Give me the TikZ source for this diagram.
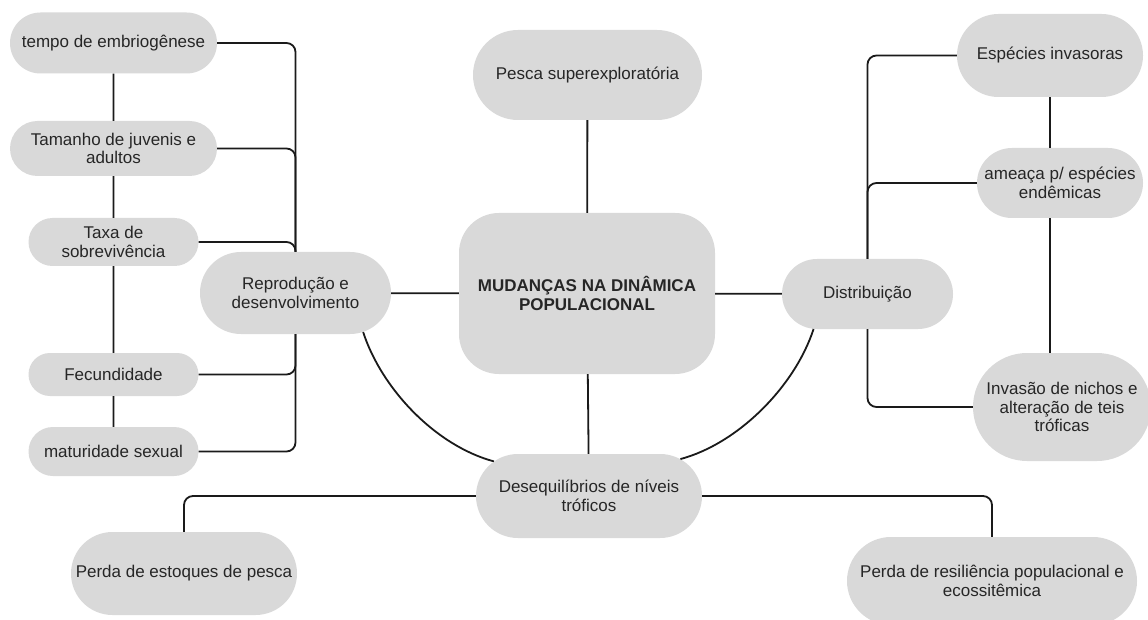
\documentclass[tikz,border=0pt]{standalone}
\usepackage{fontspec}
\setmainfont{Liberation Sans}
\usetikzlibrary{shapes.misc}
\definecolor{boxgray}{HTML}{D9D9D9}
\definecolor{txt}{HTML}{262626}
\definecolor{ln}{HTML}{1A1A1A}
\newcommand\fsz{\fontsize{17}{18.6}\selectfont}
\tikzset{
  pill/.style={rounded rectangle, fill=boxgray, draw=none, inner sep=0pt, align=center, font=\fsz, text=txt},
  conn/.style={draw=ln, line width=1.8pt},
  elbow/.style={conn, rounded corners=9pt}
}
\begin{document}
\begin{tikzpicture}[x=1pt,y=-1pt]
\useasboundingbox[fill=white] (0,0) rectangle (1148,620);
% nodes
\node[pill, minimum width=207pt, minimum height=61pt] (tempo) at (113.5,43) {tempo de embriogênese};
\node[pill, minimum width=207pt, minimum height=55pt] (tamanho) at (113.5,148.5) {Tamanho de juvenis e\\adultos};
\node[pill, minimum width=170pt, minimum height=48pt] (taxa) at (113.5,242) {Taxa de\\sobrevivência};
\node[pill, minimum width=191pt, minimum height=82pt] (repro) at (295.5,293) {Reprodução e\\desenvolvimento};
\node[pill, minimum width=170pt, minimum height=43pt] (fec) at (113.5,374.5) {Fecundidade};
\node[pill, minimum width=170pt, minimum height=49pt] (mat) at (113.5,451.5) {maturidade sexual};
\node[rectangle, rounded corners=40pt, fill=boxgray, inner sep=0pt, align=center, text=txt,
      font=\fontsize{17}{19}\selectfont\bfseries, minimum width=256pt, minimum height=161pt] (centro) at (587,293.5) {MUDANÇAS NA DINÂMICA\\POPULACIONAL};
\node[pill, minimum width=229pt, minimum height=90pt] (pesca) at (587.5,75) {Pesca superexploratória};
\node[pill, minimum width=171pt, minimum height=70pt] (distr) at (867.5,294) {Distribuição};
\node[pill, minimum width=186pt, minimum height=83pt] (especies) at (1050,55.5) {Espécies invasoras};
\node[pill, minimum width=166pt, minimum height=70pt] (ameaca) at (1060,183) {ameaça p/ espécies\\endêmicas};
\node[pill, minimum width=178pt, minimum height=108pt] (invasao) at (1062,407) {Invasão de nichos e\\alteração de teis\\tróficas};
\node[pill, minimum width=226pt, minimum height=84pt] (deseq) at (589,496) {Desequilíbrios de níveis\\tróficos};
\node[pill, minimum width=226pt, minimum height=83pt] (estoques) at (184,573.5) {Perda de estoques de pesca};
\node[pill, minimum width=290pt, minimum height=88pt] (resil) at (992,581) {Perda de resiliência populacional e\\ecossitêmica};
% connectors
\draw[conn] (pesca) -- (centro);
\draw[conn] (repro) -- (centro);
\draw[conn] (centro) -- (distr);
\draw[conn] (centro) -- (deseq);
% left column
\draw[conn] (tempo) -- (tamanho);
\draw[conn] (tamanho) -- (taxa);
\draw[conn] (taxa) -- (fec);
\draw[conn] (fec) -- (mat);
\draw[elbow] (repro.north) |- (tempo.east);
\draw[elbow] (repro.north) |- (tamanho.east);
\draw[elbow] (repro.north) |- (taxa.east);
\draw[elbow] (repro.south) |- (fec.east);
\draw[elbow] (repro.south) |- (mat.east);
% right column
\draw[conn] (especies.south) -- (especies.south |- ameaca.north);
\draw[conn] (especies.south |- ameaca.south) -- (especies.south |- invasao.north);
\draw[elbow] (distr.north) |- (especies.west);
\draw[elbow] (distr.north) |- (ameaca.west);
\draw[elbow] (distr.south) |- (invasao.west);
% curves
\draw[conn] (repro.-30) .. controls +(-72:60pt) and +(165:60pt) .. (deseq.160);
\draw[conn] (distr.213) .. controls +(-108:60pt) and +(15:60pt) .. (deseq.22);
% bottom branches
\draw[elbow] (deseq.west) -| (estoques.north);
\draw[elbow] (deseq.east) -| (resil.north);
\end{tikzpicture}
\end{document}
